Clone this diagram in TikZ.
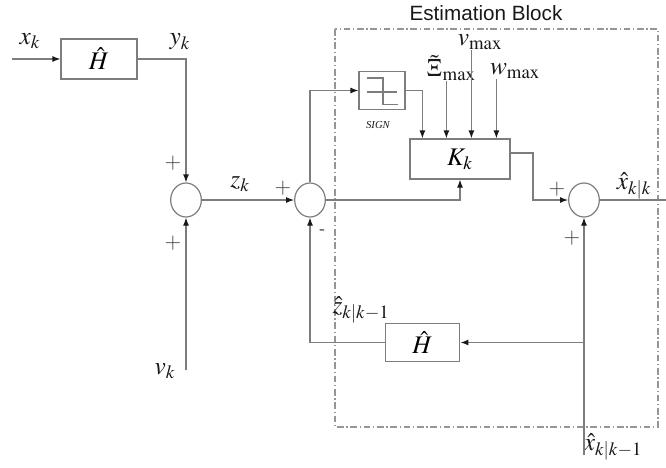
\documentclass[tikz,border=0pt]{standalone}
\usepackage{mathptmx}
\usepackage{fontspec}
\setmainfont{Liberation Serif}
\setsansfont{Liberation Sans}
\usetikzlibrary{shapes.geometric, arrows.meta, positioning, calc}
\definecolor{wiregray}{RGB}{125,125,125}
\definecolor{framegray}{RGB}{150,150,150}
\definecolor{inkdark}{RGB}{25,25,25}
\newcommand{\mathsize}{\fontsize{19}{21}\selectfont}
\tikzset{
  blockbox/.style={rectangle, draw=wiregray, fill=white, line width=0.9pt,
    inner sep=0pt, font=\mathsize},
  summer/.style={ellipse, draw=wiregray, fill=white, line width=0.9pt,
    minimum width=23pt, minimum height=25.5pt, inner sep=0pt},
  wire/.style={draw=wiregray, line width=0.9pt},
  sig/.style={wire, -{Latex[length=6pt,width=4.5pt,color=inkdark]}},
  lbl/.style={inner sep=0pt, text=inkdark, font=\mathsize},
  sgnlbl/.style={inner sep=0pt, text=inkdark!80, font=\fontsize{16}{18}\selectfont},
  estframe/.style={draw=framegray, line width=0.8pt,
    dash pattern=on 5pt off 2pt on 1pt off 2pt}
}

\begin{document}
\begin{tikzpicture}[x=0.75pt, y=-0.75pt]
  \useasboundingbox (0,0) rectangle (666,467);
  % estimation frame
  \draw[estframe] (335,29) rectangle (658,427);
  \node[inner sep=0pt, font=\sffamily\fontsize{15.5}{18}\selectfont, text=inkdark]
    (esttitle) at (486,13) {Estimation Block};
  % blocks
  \node[blockbox, minimum width=57pt, minimum height=30pt] (hin) at (99,59) {$\hat{H}$};
  \node[summer] (sum1) at (186,200) {};
  \node[summer] (sum2) at (310,200) {};
  \node[blockbox, minimum width=34.5pt, minimum height=28pt] (sgn) at (382,90.5) {};
  \node[blockbox, minimum width=75pt, minimum height=30pt] (gain) at (460,159) {$K_k$};
  \node[summer] (sum3) at (584,200) {};
  \node[blockbox, minimum width=56pt, minimum height=29pt] (hfb) at (422.5,342.5) {$\hat{H}$};
  % relay symbol inside SIGN
  \draw[wire, line width=0.8pt] ($(sgn.center)+(-15,-12.5)$) -- ++(16,0) -- ++(0,26.5) -- ++(15,0);
  \draw[wire, line width=0.8pt] ($(sgn.center)+(-15,1.5)$) -- ++(30,0);
  \node[inner sep=0pt, text=inkdark, font=\fontsize{8}{9}\selectfont\itshape]
    (sgnname) at (378,125) {SIGN};
  % free ends
  \coordinate (xin) at (12,59);
  \coordinate (vin) at (186,370);
  \coordinate (xout) at (666,200);
  \coordinate (xprev) at (584,455);
  \coordinate (kin1) at ($(gain.north west)+(13,0)$);
  \coordinate (kin2) at ($(gain.north west)+(37,0)$);
  \coordinate (kin3) at ($(gain.north west)+(62,0)$);
  \coordinate (kin4) at ($(gain.north west)+(87,0)$);
  % labels
  \node[lbl] (xklbl) at (30,41) {$x_k$};
  \node[lbl] (yklbl) at (180,42) {$y_k$};
  \node[lbl] (zklbl) at (240,184) {$z_k$};
  \node[lbl] (vklbl) at (165,371) {$v_k$};
  \node[lbl, anchor=south] (ximax) at (451,81) {$\tilde{\Xi}_{\max}$};
  \node[lbl, anchor=south] (vmax) at (480,50) {$v_{\max}$};
  \node[lbl, anchor=south] (wmax) at (515,79) {$w_{\max}$};
  \node[lbl] (xpost) at (634,186) {$\hat{x}_{k|k}$};
  \node[lbl] (zpred) at (361,310) {$\hat{z}_{k|k-1}$};
  \node[lbl] (xpred) at (613,447) {$\hat{x}_{k|k-1}$};
  \node[sgnlbl] (p1) at (173,163) {$+$};
  \node[sgnlbl] (p2) at (173,243) {$+$};
  \node[sgnlbl] (p3) at (283,188) {$+$};
  \node[sgnlbl, font=\fontsize{13}{15}\selectfont] (m1) at (322,232) {-};
  \node[sgnlbl] (p4) at (557,189) {$+$};
  \node[sgnlbl] (p5) at (572,238) {$+$};
  % connectors
  \draw[sig] (xin) -- (hin.west);
  \draw[sig] (hin.east) -| (sum1.north);
  \draw[sig] (vin) -- (sum1.south);
  \draw[sig] (sum1.east) -- (sum2.west);
  \draw[sig] (sum2.north) |- (sgn.west);
  \draw[sig] (sgn.east) -| (kin1);
  \draw[sig] (kin2 |- ximax.south) -- (kin2);
  \draw[sig] (kin3 |- vmax.south) -- (kin3);
  \draw[sig] (kin4 |- wmax.south) -- (kin4);
  \draw[sig] (sum2.east) -| (gain.south);
  \draw[sig] ($(gain.east)+(0,-6)$) -| ($(sum3.west)+(-35,0)$) -- (sum3.west);
  \draw[wire] (sum3.east) -- (xout);
  \draw[sig] (xprev) -- (sum3.south);
  \draw[sig] (xprev |- hfb.east) -- (hfb.east);
  \draw[sig] (hfb.west) -| (sum2.south);
\end{tikzpicture}
\end{document}
